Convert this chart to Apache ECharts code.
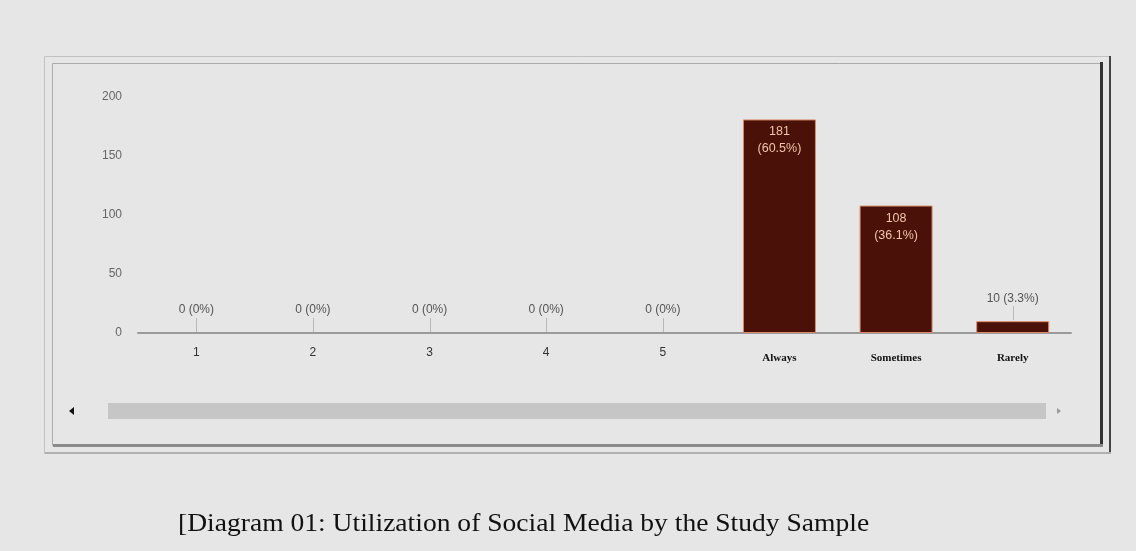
<!DOCTYPE html>
<html>
<head>
<meta charset="utf-8">
<script src="https://cdn.jsdelivr.net/npm/echarts@6/dist/echarts.min.js"></script>
<style>
  html, body { margin: 0; padding: 0; background: #e6e6e6; }
  #main { width: 1136px; height: 551px; }
</style>
</head>
<body>
<div id="main"></div>
<script>
// chart data
var categories = ['1', '2', '3', '4', '5', 'Always', 'Sometimes', 'Rarely'];
var counts = [0, 0, 0, 0, 0, 181, 108, 10];
var percents = ['0%', '0%', '0%', '0%', '0%', '60.5%', '36.1%', '3.3%'];
var yTicks = [0, 50, 100, 150, 200];

var textCats = ['Always', 'Sometimes', 'Rarely'];

// tall bars carry their label inside, short ones get a callout above
var barData = counts.map(function (v, i) {
    var big = v > 50;
    return {
        value: v,
        itemStyle: { borderWidth: v > 0 ? 1 : 0 },
        label: {
            show: big,
            formatter: v + '\n(' + percents[i] + ')'
        }
    };
});

var calloutData = [];
counts.forEach(function (v, i) {
    if (v <= 50) calloutData.push([i, v, v + ' (' + percents[i] + ')']);
});

var myChart = echarts.init(document.getElementById('main'));
var option = {
    backgroundColor: '#e6e6e6',
    animation: false,
    grid: {
        left: 138,
        right: 65,
        top: 97,
        bottom: 218
    },
    xAxis: {
        type: 'category',
        data: categories,
        axisLine: { lineStyle: { color: '#9a9a9a', width: 2 } },
        axisTick: { show: false },
        axisLabel: {
            margin: 14,
            fontFamily: 'Liberation Sans',
            fontSize: 12,
            color: '#333',
            formatter: function (v) {
                return textCats.indexOf(v) >= 0 ? '{t|' + v + '}' : v;
            },
            rich: {
                t: {
                    fontFamily: 'Liberation Serif',
                    fontWeight: 'bold',
                    fontSize: 11,
                    color: '#111',
                    padding: [6, 0, 0, 0]
                }
            }
        }
    },
    yAxis: {
        type: 'value',
        min: yTicks[0],
        max: yTicks[yTicks.length - 1],
        interval: 50,
        splitLine: { show: false },
        axisLine: { show: false },
        axisTick: { show: false },
        axisLabel: {
            margin: 16,
            fontFamily: 'Liberation Sans',
            fontSize: 12,
            color: '#666'
        }
    },
    series: [{
        type: 'bar',
        data: barData,
        barWidth: 73,
        itemStyle: {
            color: '#4a1108',
            borderColor: '#d98a6a'
        },
        label: {
            position: 'insideTop',
            distance: 4,
            color: '#f2c3ad',
            lineHeight: 17,
            fontFamily: 'Liberation Sans',
            fontSize: 12.5
        }
    }, {
        type: 'custom',
        data: calloutData,
        z: 5,
        renderItem: function (params, api) {
            var p = api.coord([api.value(0), api.value(1)]);
            var x = Math.round(p[0]) + 0.5;
            return {
                type: 'group',
                children: [{
                    type: 'line',
                    shape: { x1: x, y1: p[1] - 1, x2: x, y2: p[1] - 15 },
                    style: { stroke: '#b8b8b8', lineWidth: 1 }
                }, {
                    type: 'text',
                    x: p[0],
                    y: p[1] - 17,
                    style: {
                        text: calloutData[params.dataIndex][2],
                        align: 'center',
                        verticalAlign: 'bottom',
                        fontFamily: 'Liberation Sans',
                        fontSize: 12,
                        fill: '#555'
                    }
                }]
            };
        }
    }],
    graphic: [
        // outer frame
        { type: 'rect', shape: { x: 44.5, y: 56.5, width: 1066, height: 397 },
          style: { fill: 'none', stroke: '#c2c2c2', lineWidth: 1 }, z: 0 },
        // inner frame
        { type: 'rect', shape: { x: 52.5, y: 63.5, width: 1049, height: 382 },
          style: { fill: 'none', stroke: '#aaaaaa', lineWidth: 1 }, z: 0 },
        // right dark edges
        { type: 'rect', shape: { x: 1100, y: 62, width: 3, height: 385 },
          style: { fill: '#333' }, z: 1 },
        { type: 'rect', shape: { x: 1109, y: 56, width: 2, height: 398 },
          style: { fill: '#444' }, z: 1 },
        // bottom shadow
        { type: 'rect', shape: { x: 53, y: 444, width: 1050, height: 3 },
          style: { fill: '#8a8a8a' }, z: 1 },
        { type: 'rect', shape: { x: 45, y: 452, width: 1066, height: 2 },
          style: { fill: '#b0b0b0' }, z: 1 },
        // scrollbar
        { type: 'rect', shape: { x: 108, y: 403, width: 938, height: 16 },
          style: { fill: '#c6c6c6' }, z: 1 },
        { type: 'polygon', shape: { points: [[69, 411], [74, 407], [74, 415]] },
          style: { fill: '#111' }, z: 1 },
        { type: 'polygon', shape: { points: [[1061, 411], [1057, 408], [1057, 414]] },
          style: { fill: '#999' }, z: 1 },
        // caption
        { type: 'text', left: 178, top: 511, scaleX: 1.06,
          style: {
              text: '[Diagram 01: Utilization of Social Media by the Study Sample',
              fontFamily: 'Liberation Serif',
              fontSize: 26,
              fill: '#111'
          }, z: 1 }
    ]
};

myChart.setOption(option);
</script>
</body>
</html>
